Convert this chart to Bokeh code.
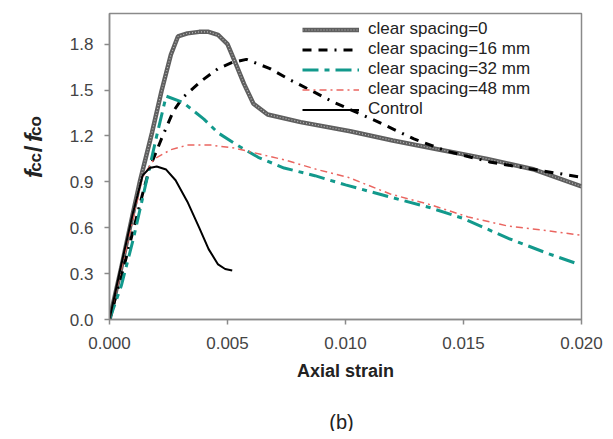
import math
from bokeh.plotting import figure
from bokeh.layouts import row, column
from bokeh.models import Range1d, FixedTicker, PrintfTickFormatter
from bokeh.core.properties import value
from bokeh.embed import file_html
from bokeh.resources import INLINE

# ---- data ----
x_s0 = [0, 0.0005, 0.0010, 0.0013, 0.0018, 0.0022, 0.0026, 0.0029, 0.0033, 0.0038, 0.0042, 0.0046,
        0.0050, 0.0053, 0.0057, 0.0061, 0.0067, 0.0081, 0.0102, 0.0120, 0.0140, 0.0160, 0.0180, 0.0200]
y_s0 = [0, 0.34, 0.70, 0.91, 1.22, 1.49, 1.73, 1.85, 1.87, 1.88, 1.88, 1.86,
        1.80, 1.69, 1.54, 1.41, 1.34, 1.29, 1.23, 1.17, 1.11, 1.05, 0.98, 0.87]

x_s16 = [0, 0.0005, 0.0010, 0.0014, 0.0017, 0.0022, 0.0027, 0.0031, 0.0039, 0.0046, 0.0052, 0.0058,
         0.0068, 0.0076, 0.0085, 0.0095, 0.0114, 0.0129, 0.0143, 0.0161, 0.0180, 0.0200]
y_s16 = [0, 0.28, 0.58, 0.82, 0.99, 1.18, 1.36, 1.45, 1.56, 1.64, 1.68, 1.70,
         1.64, 1.57, 1.50, 1.42, 1.29, 1.18, 1.10, 1.03, 0.98, 0.93]

x_s32 = [0, 0.0005, 0.0010, 0.0015, 0.0020, 0.0024, 0.0031, 0.0040, 0.0046, 0.0053, 0.0063, 0.0074,
         0.0087, 0.0100, 0.0119, 0.0136, 0.0150, 0.0169, 0.0186, 0.0199]
y_s32 = [0, 0.22, 0.52, 0.86, 1.20, 1.46, 1.42, 1.31, 1.22, 1.15, 1.06, 0.99,
         0.94, 0.88, 0.80, 0.73, 0.66, 0.53, 0.43, 0.36]

x_s48 = [0, 0.0005, 0.0010, 0.0014, 0.0019, 0.0026, 0.0033, 0.0043, 0.0053, 0.0064, 0.0075, 0.0088,
         0.0101, 0.0119, 0.0136, 0.0152, 0.0169, 0.0186, 0.0200]
y_s48 = [0, 0.33, 0.66, 0.93, 1.05, 1.11, 1.14, 1.14, 1.12, 1.08, 1.04, 0.98,
         0.93, 0.82, 0.75, 0.67, 0.61, 0.58, 0.55]

x_ctrl = [0, 0.0005, 0.0010, 0.0014, 0.0017, 0.0020, 0.0024, 0.0028, 0.0033, 0.0038, 0.0042, 0.0046, 0.0049, 0.0052]
y_ctrl = [0, 0.36, 0.70, 0.94, 0.99, 1.00, 0.98, 0.91, 0.77, 0.60, 0.46, 0.36, 0.33, 0.32]

x_ticks = [0.0, 0.005, 0.010, 0.015, 0.020]
y_ticks = [0.0, 0.3, 0.6, 0.9, 1.2, 1.5, 1.8]

labels = ["clear spacing=0", "clear spacing=16 mm", "clear spacing=32 mm",
          "clear spacing=48 mm", "Control"]

FONT = "Liberation Sans"
H = 400          # height of main row
LW = 50          # width of the y-label strip
TOTAL_W = 605

# ---------------- main plot ----------------
p = figure(width=TOTAL_W - LW, height=H, output_backend="svg", toolbar_location=None,
           x_range=Range1d(0, 0.02), y_range=Range1d(0, 2.0),
           min_border_left=109 - LW, min_border_right=24, min_border_top=13, min_border_bottom=H - 319)
p.background_fill_color = "white"
p.border_fill_color = "white"
p.grid.visible = False
p.outline_line_color = "#8a8a8a"
p.outline_line_width = 1.5

p.line(x_s0, y_s0, line_color="#5f5f5f", line_width=4.5, legend_label=labels[0])
p.line(x_s0, y_s0, line_color="#bdbdbd", line_width=1.2, line_dash="1 2", legend_label=labels[0])
p.line(x_s16, y_s16, line_color="black", line_width=3, line_dash="9 7 9 7 2 7", legend_label=labels[1])
p.line(x_s32, y_s32, line_color="#12998c", line_width=3, line_dash="16 6 5 6", legend_label=labels[2])
p.line(x_s48, y_s48, line_color="#ea6560", line_width=1.5, line_dash="7 4 2 4", legend_label=labels[3])
p.line(x_ctrl, y_ctrl, line_color="black", line_width=2, legend_label=labels[4])

for ax in (p.xaxis[0], p.yaxis[0]):
    ax.axis_line_color = "#8a8a8a"
    ax.axis_line_width = 1.5
    ax.major_tick_line_color = "#8a8a8a"
    ax.major_tick_line_width = 1.5
    ax.major_tick_out = 5
    ax.major_tick_in = 0
    ax.minor_tick_line_color = None
    ax.major_label_text_font = FONT
    ax.major_label_text_font_size = "17px"
    ax.major_label_text_color = "#444444"

p.xaxis.ticker = FixedTicker(ticks=x_ticks)
p.xaxis.formatter = PrintfTickFormatter(format="%.3f")
p.xaxis.major_label_standoff = 12
p.xaxis.axis_label = "Axial strain"
p.xaxis.axis_label_text_font = FONT
p.xaxis.axis_label_text_font_size = "18px"
p.xaxis.axis_label_text_font_style = "bold"
p.xaxis.axis_label_text_color = "#222222"
p.xaxis.axis_label_standoff = 9

p.yaxis.ticker = FixedTicker(ticks=y_ticks)
p.yaxis.formatter = PrintfTickFormatter(format="%.1f")
p.yaxis.major_label_standoff = 11

lg = p.legend[0]
lg.location = (193, 200)
lg.background_fill_alpha = 0
lg.border_line_alpha = 0
lg.padding = 0
lg.margin = 0
lg.spacing = 0
lg.glyph_width = 57
lg.glyph_height = 17
lg.label_height = 17
lg.label_standoff = 9
lg.label_text_font = FONT
lg.label_text_font_size = "17px"
lg.label_text_color = "#222222"

# ---------------- y-axis label strip: f_cc / f_co ----------------
q = figure(width=LW, height=H, output_backend="svg", toolbar_location=None,
           x_range=Range1d(0, LW), y_range=Range1d(0, H),
           x_axis_type=None, y_axis_type=None,
           min_border_left=0, min_border_right=0, min_border_top=0, min_border_bottom=0)
q.outline_line_color = None
q.grid.visible = False
q.background_fill_color = "white"
q.border_fill_color = "white"

ylab_text = ["f", "cc", "/", "f", "co"]
ylab_size = ["24px", "17px", "24px", "24px", "17px"]
ylab_style = ["bold italic", "bold", "bold", "bold italic", "bold"]
ylab_base = [33, 35, 33, 33, 35]
ylab_start = [215.0, 207.0, 181.4, 168.0, 160.0]
for t, fs, st, bx, sy in zip(ylab_text, ylab_size, ylab_style, ylab_base, ylab_start):
    q.text(x=[bx], y=[H - sy], text=[t], angle=math.pi / 2,
           text_align="left", text_baseline="alphabetic",
           text_font=value(FONT), text_font_size=value(fs), text_font_style=value(st),
           text_color="#222222")

# ---------------- caption "(b)" ----------------
BH = 31
b = figure(width=TOTAL_W, height=BH, output_backend="svg", toolbar_location=None,
           x_range=Range1d(0, TOTAL_W), y_range=Range1d(0, BH),
           x_axis_type=None, y_axis_type=None,
           min_border_left=0, min_border_right=0, min_border_top=0, min_border_bottom=0)
b.outline_line_color = None
b.grid.visible = False
b.background_fill_color = "white"
b.border_fill_color = "white"
b.text(x=[341], y=[BH - (421 - H)], text=["(b)"], text_align="center", text_baseline="middle",
       text_font=value(FONT), text_font_size=value("20px"), text_color="#222222")

layout = column(row(q, p), b)
open("out.html", "w").write(file_html(layout, INLINE))
